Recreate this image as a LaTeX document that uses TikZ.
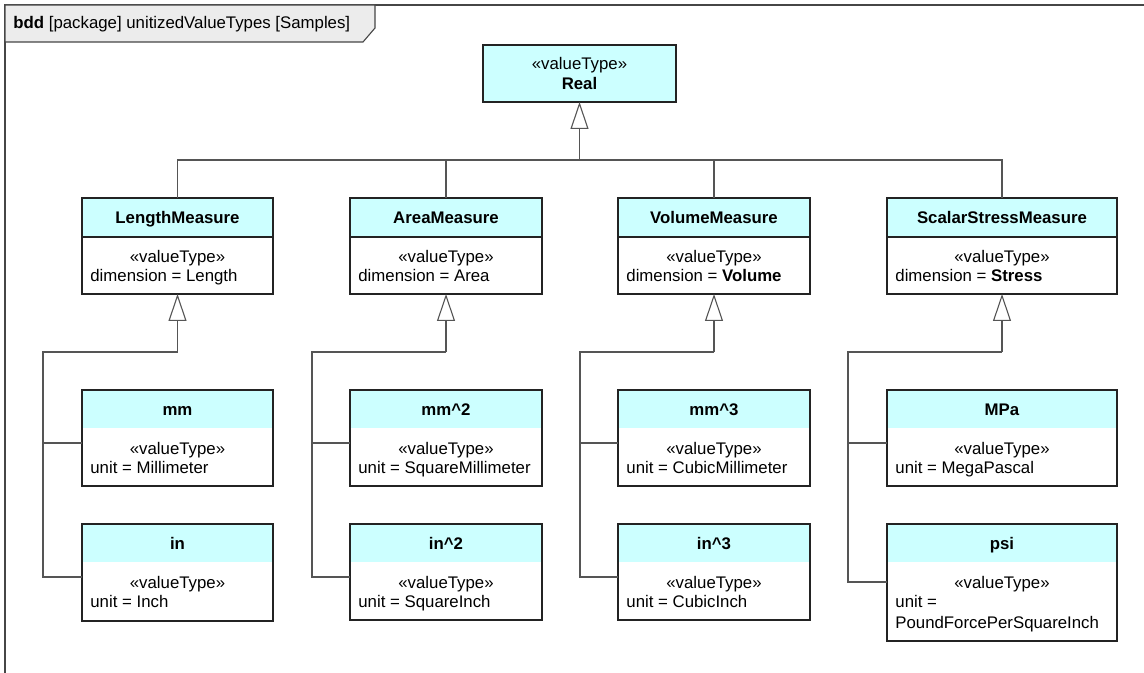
\documentclass[tikz,border=0pt]{standalone}
\usepackage{fontspec}
\setmainfont{Liberation Sans}
\usetikzlibrary{arrows.meta}
\definecolor{hdrcyan}{RGB}{204,255,255}
\definecolor{framegray}{RGB}{236,236,236}
\definecolor{boxline}{RGB}{35,35,35}
\definecolor{connline}{RGB}{85,85,85}
\definecolor{frameline}{RGB}{70,70,70}
\tikzset{
  basefont/.style={font=\fontsize{8.4}{9.5}\selectfont},
  clsbox/.style={draw=boxline, fill=white, line width=0.6pt, inner sep=0pt, outer sep=0pt},
  clsline/.style={draw=boxline, line width=0.6pt},
  hdrfill/.style={fill=hdrcyan},
  divline/.style={draw=boxline, line width=0.6pt},
  nodiv/.style={draw=none},
  titletext/.style={font=\fontsize{8.4}{9.5}\selectfont\bfseries, anchor=base, inner sep=0pt},
  stereo/.style={basefont, anchor=base, inner sep=0pt},
  attr/.style={basefont, anchor=base west, inner sep=0pt},
  realbox/.style={draw=boxline, fill=hdrcyan, line width=0.6pt, inner sep=0pt, outer sep=0pt, align=center, basefont},
  conn/.style={draw=connline, line width=0.55pt},
  gen/.style={conn, -{Triangle[open, fill=white, length=13.5pt, width=9pt]}},
}
\newcommand\umlcls[9]{%
  \node[clsbox, minimum width={(#3-#2)*0.5pt}, minimum height={(#6-#4)*0.5pt}] (#1) at ({(#2+#3)/2},{(#4+#6)/2}) {};
  \fill[hdrfill] (#2,#4) rectangle (#3,#5);
  \draw[#9] (#2,#5) -- (#3,#5);
  \draw[clsline] (#1.north west) rectangle (#1.south east);
  \node[titletext] (#1-title) at ({(#2+#3)/2},{(#4+#5)/2+6}) {#7};
  \node[stereo] (#1-st) at ({(#2+#3)/2},{#5+20+6}) {«valueType»};
  \node[attr] (#1-at) at ({#2+8},{#5+39+6}) {#8};
}
\newcommand\subtree[5]{%
  \coordinate (#1-sp) at (#2,352);
  \draw[gen] (#1.south |- sub) -- (#1.south);
  \draw[conn] (#1.south |- sub) -- (#1-sp) -- (#1-sp |- #5) -- (#4.west |- #5);
  \draw[conn] (#1-sp |- rowA) -- (#3.west |- rowA);
}
\begin{document}
\begin{tikzpicture}[x=0.5pt,y=-0.5pt]
\useasboundingbox (0,0) rectangle (1144,673);
\fill[white] (0,0) rectangle (1144,673);
% frame
\draw[frameline, line width=0.55pt] (1144,5) -- (5,5) -- (5,673);
\filldraw[fill=framegray, draw=frameline, line width=0.55pt] (5,5) -- (375,5) -- (375,28) -- (363,42) -- (5,42) -- cycle;
\node[attr] (frametitle) at (13,29) {\textbf{bdd} [package] unitizedValueTypes [Samples]};
% top
\node[realbox, minimum width=96.5pt, minimum height=28.5pt] (real) at (579.5,73.5) {«valueType»\\\textbf{Real}};
% measures
\umlcls{len}{82}{273}{198}{237}{294}{LengthMeasure}{dimension = Length}{divline}
\umlcls{area}{350}{542}{198}{237}{294}{AreaMeasure}{dimension = Area}{divline}
\umlcls{vol}{618}{810}{198}{237}{294}{VolumeMeasure}{dimension = \textbf{Volume}}{divline}
\umlcls{ssm}{887}{1117}{198}{237}{294}{ScalarStressMeasure}{dimension = \textbf{Stress}}{divline}
% units
\umlcls{mm}{82}{273}{390}{428}{486}{mm}{unit = Millimeter}{nodiv}
\umlcls{inch}{82}{273}{524}{562}{621}{in}{unit = Inch}{nodiv}
\umlcls{mmsq}{350}{542}{390}{428}{486}{mm\textasciicircum 2}{unit = SquareMillimeter}{nodiv}
\umlcls{insq}{350}{542}{524}{562}{620}{in\textasciicircum 2}{unit = SquareInch}{nodiv}
\umlcls{mmcu}{618}{810}{390}{428}{486}{mm\textasciicircum 3}{unit = CubicMillimeter}{nodiv}
\umlcls{incu}{618}{810}{524}{562}{620}{in\textasciicircum 3}{unit = CubicInch}{nodiv}
\umlcls{mpa}{887}{1117}{390}{428}{486}{MPa}{unit = MegaPascal}{nodiv}
\umlcls{psi}{887}{1117}{524}{562}{641}{psi}{unit =}{nodiv}
\node[attr] (psi-at2) at (895,628) {PoundForcePerSquareInch};
% connectors
\coordinate (bus) at (0,160);
\coordinate (sub) at (0,352);
\coordinate (rowA) at (0,443);
\coordinate (rowB) at (0,577);
\coordinate (rowC) at (0,582);
\draw[conn] (len.north) -- (len.north |- bus) -- (ssm.north |- bus) -- (ssm.north);
\draw[conn] (area.north) -- (area.north |- bus);
\draw[conn] (vol.north) -- (vol.north |- bus);
\draw[gen] (real.south |- bus) -- (real.south);
\subtree{len}{43}{mm}{inch}{rowB}
\subtree{area}{312}{mmsq}{insq}{rowB}
\subtree{vol}{580}{mmcu}{incu}{rowB}
\subtree{ssm}{848}{mpa}{psi}{rowC}
\end{tikzpicture}
\end{document}
